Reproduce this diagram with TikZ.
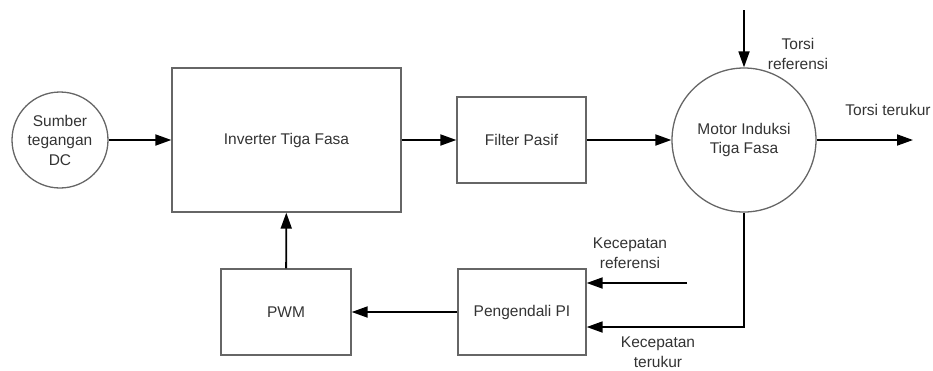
\documentclass[tikz,border=0pt]{standalone}
\usepackage{fontspec}
\setmainfont{Liberation Sans}
\usetikzlibrary{arrows.meta,calc}
\begin{document}
\begin{tikzpicture}[x=1pt,y=-1pt,
  txt/.style={font=\fontsize{15.5}{19.5}\selectfont, text=black!80, align=center},
  blk/.style={draw=black!60, line width=1.3pt, rectangle, inner sep=0pt, txt},
  circ/.style={draw=black!60, line width=1.3pt, circle, inner sep=0pt, txt},
  conn/.style={draw=black, line width=1.8pt, -{Triangle[length=16pt,width=11pt]}}]
\useasboundingbox (0,0) rectangle (933,370);
\node[circ, minimum size=96pt] (dc) at (60,140) {Sumber\\tegangan\\DC};
\node[blk, minimum width=229pt, minimum height=144pt] (inv) at (286.5,140) {Inverter Tiga Fasa};
\node[blk, minimum width=129pt, minimum height=86pt] (filt) at (521.5,140) {Filter Pasif};
\node[circ, minimum size=144pt] (motor) at (744,140) {Motor Induksi\\Tiga Fasa};
\node[blk, minimum width=130pt, minimum height=86pt] (pwm) at (286,312) {PWM};
\node[blk, minimum width=128pt, minimum height=86pt] (pi) at (522,312) {Pengendali PI};
\coordinate (tin) at (744,10);
\coordinate (tout) at (913,140);
\coordinate (kref) at (687,283);
\coordinate (fb) at (744,327);
\node[txt] (lt1) at (798,54) {Torsi\\referensi};
\node[txt] (lt2) at (888,110) {Torsi terukur};
\node[txt] (lk1) at (630,253) {Kecepatan\\referensi};
\node[txt, inner ysep=1pt] (lk2) at (658,352) {Kecepatan\\terukur};
\draw[conn] (dc) -- (inv);
\draw[conn] (inv) -- (filt);
\draw[conn] (filt) -- (motor);
\draw[conn] (tin) -- (motor);
\draw[conn] (motor) -- (tout);
\draw[conn] (pwm) -- (inv);
\draw[conn] (pi) -- (pwm);
\draw[conn] (kref) -- (kref -| pi.east);
\draw[conn] (motor.south) -- (fb) -- (fb -| pi.east);
\end{tikzpicture}
\end{document}
